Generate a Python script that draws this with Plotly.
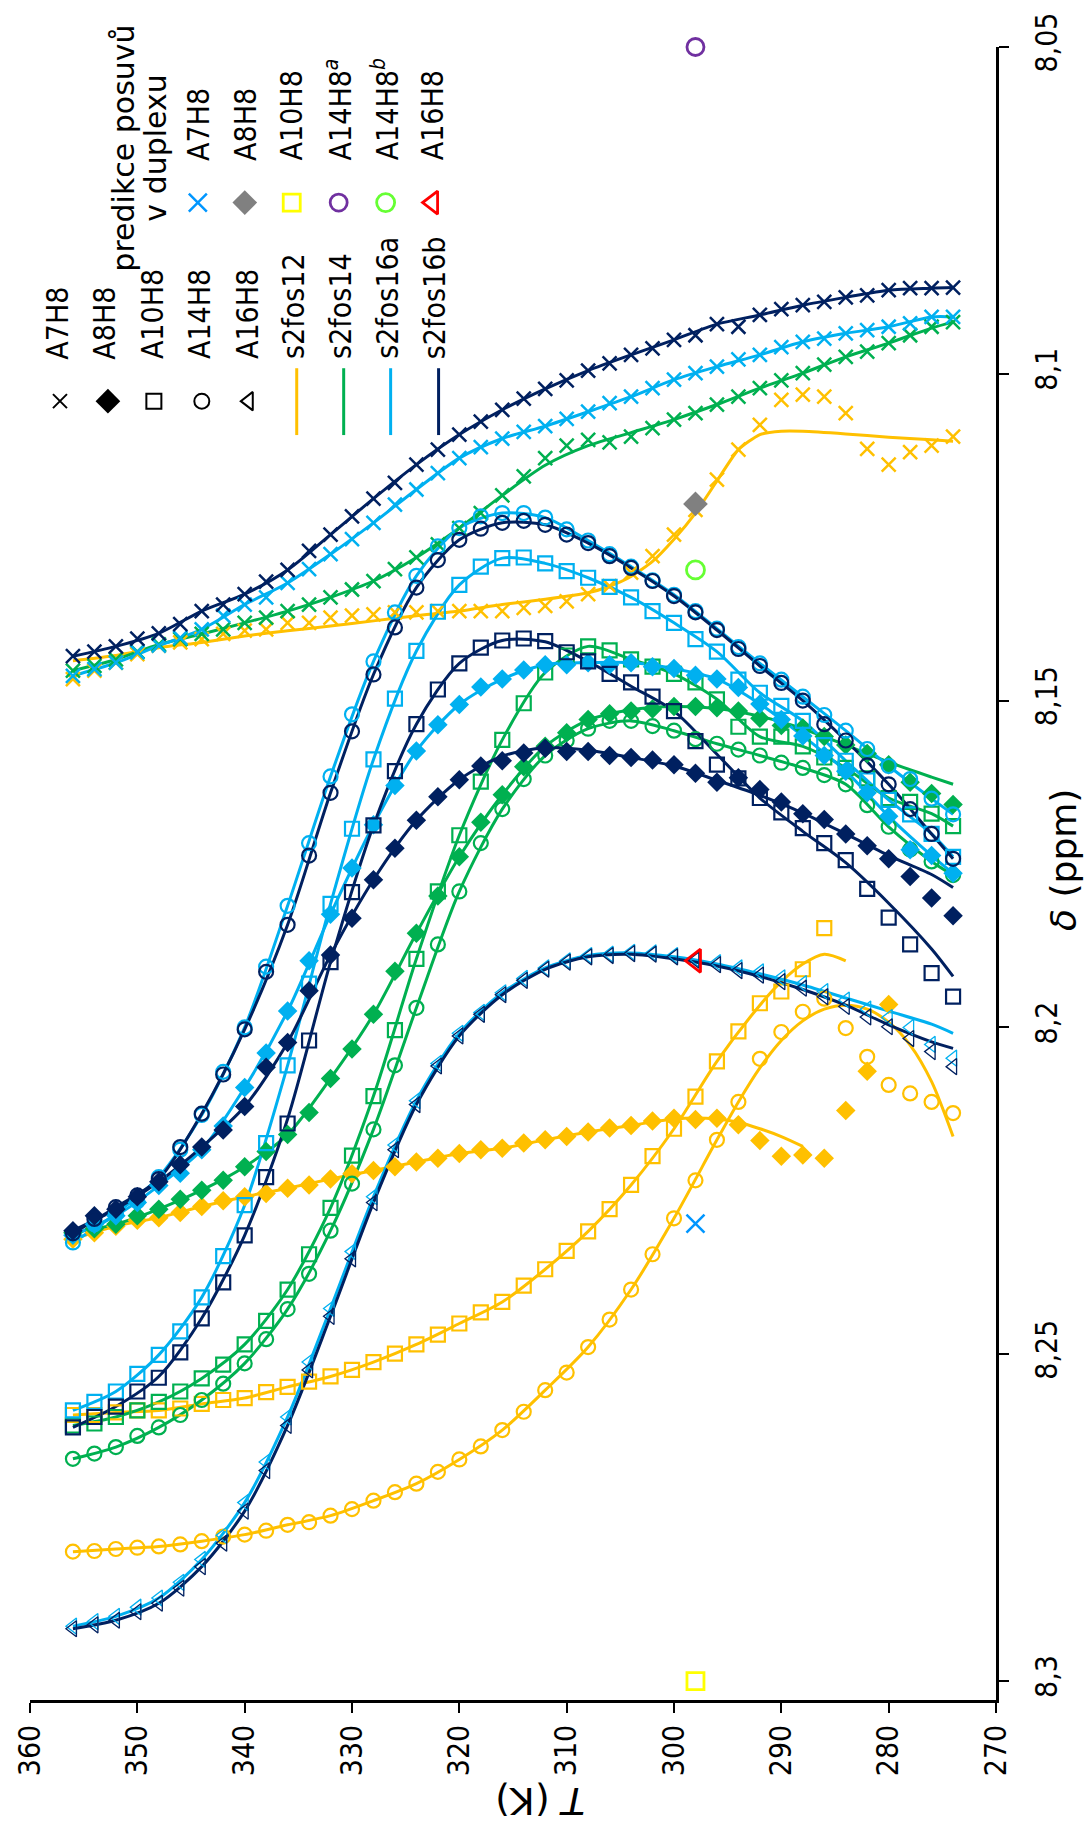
import plotly.graph_objects as go

# ---------------- data ----------------
T = list(range(356, 272, -2))          # 356 ... 274 K, every 2 K
T_A8_12 = list(range(356, 278, -2))    # 356 ... 280
T_A10_12 = list(range(356, 284, -2))   # 356 ... 286

# s2fos16b (navy)
navy_A7 = [8.1432, 8.1425, 8.1417, 8.1405, 8.1397, 8.1383, 8.1363, 8.1353, 8.1337, 8.1318,
           8.1300, 8.1271, 8.1246, 8.1218, 8.1191, 8.1167, 8.1139, 8.1116, 8.1093, 8.1073,
           8.1055, 8.1038, 8.1023, 8.1010, 8.0995, 8.0984, 8.0971, 8.0961, 8.0948, 8.0941,
           8.0924, 8.0928, 8.0910, 8.0901, 8.0895, 8.0890, 8.0883, 8.0880, 8.0872, 8.0869,
           8.0869, 8.0868]
navy_A8 = [8.2311, 8.2288, 8.2278, 8.2259, 8.2236, 8.2210, 8.2183, 8.2157, 8.2121, 8.2061,
           8.2023, 8.1944, 8.1889, 8.1833, 8.1774, 8.1726, 8.1683, 8.1647, 8.1621, 8.1600,
           8.1592, 8.1580, 8.1573, 8.1578, 8.1578, 8.1584, 8.1587, 8.1591, 8.1598, 8.1611,
           8.1625, 8.1618, 8.1636, 8.1655, 8.1673, 8.1682, 8.1704, 8.1722, 8.1742, 8.1769,
           8.1802, 8.1829]
navy_A10 = [8.2612, 8.2596, 8.2580, 8.2557, 8.2536, 8.2497, 8.2445, 8.2390, 8.2318, 8.2229,
            8.2147, 8.2020, 8.1900, 8.1793, 8.1691, 8.1608, 8.1536, 8.1483, 8.1443, 8.1419,
            8.1408, 8.1405, 8.1409, 8.1426, 8.1440, 8.1459, 8.1472, 8.1494, 8.1516, 8.1562,
            8.1598, 8.1619, 8.1649, 8.1671, 8.1695, 8.1718, 8.1744, 8.1788, 8.1832, 8.1873,
            8.1917, 8.1953]
navy_A14 = [8.2315, 8.2293, 8.2275, 8.2257, 8.2232, 8.2183, 8.2132, 8.2072, 8.2003, 8.1915,
            8.1843, 8.1737, 8.1641, 8.1547, 8.1460, 8.1388, 8.1327, 8.1285, 8.1254, 8.1237,
            8.1228, 8.1225, 8.1231, 8.1246, 8.1259, 8.1279, 8.1297, 8.1317, 8.1340, 8.1365,
            8.1392, 8.1421, 8.1447, 8.1473, 8.1500, 8.1536, 8.1561, 8.1599, 8.1628, 8.1666,
            8.1704, 8.1742]
navy_A16 = [8.2920, 8.2914, 8.2907, 8.2894, 8.2881, 8.2858, 8.2825, 8.2789, 8.2740, 8.2678,
            8.2609, 8.2524, 8.2442, 8.2354, 8.2268, 8.2187, 8.2118, 8.2059, 8.2013, 8.1980,
            8.1950, 8.1928, 8.1911, 8.1900, 8.1892, 8.1890, 8.1887, 8.1888, 8.1892, 8.1897,
            8.1904, 8.1913, 8.1920, 8.1930, 8.1940, 8.1953, 8.1968, 8.1984, 8.1999, 8.2017,
            8.2037, 8.2060]

# s2fos16a (light blue)
ltb_A7 = [8.1462, 8.1452, 8.1442, 8.1426, 8.1416, 8.1404, 8.1391, 8.1370, 8.1353, 8.1342,
          8.1320, 8.1299, 8.1276, 8.1253, 8.1228, 8.1200, 8.1177, 8.1152, 8.1129, 8.1112,
          8.1099, 8.1089, 8.1080, 8.1069, 8.1058, 8.1045, 8.1035, 8.1022, 8.1009, 8.0999,
          8.0989, 8.0978, 8.0971, 8.0959, 8.0951, 8.0946, 8.0938, 8.0933, 8.0928, 8.0923,
          8.0913, 8.0913]
ltb_A8 = [8.2318, 8.2301, 8.2288, 8.2268, 8.2242, 8.2223, 8.2187, 8.2151, 8.2092, 8.2039,
          8.1975, 8.1898, 8.1827, 8.1756, 8.1690, 8.1630, 8.1577, 8.1537, 8.1506, 8.1479,
          8.1467, 8.1453, 8.1445, 8.1445, 8.1442, 8.1445, 8.1442, 8.1448, 8.1451, 8.1461,
          8.1467, 8.1480, 8.1505, 8.1529, 8.1554, 8.1584, 8.1608, 8.1641, 8.1677, 8.1728,
          8.1737, 8.1764]
ltb_A10 = [8.2586, 8.2573, 8.2557, 8.2530, 8.2501, 8.2465, 8.2413, 8.2350, 8.2272, 8.2177,
           8.2058, 8.1933, 8.1811, 8.1696, 8.1590, 8.1497, 8.1424, 8.1364, 8.1323, 8.1295,
           8.1282, 8.1281, 8.1290, 8.1302, 8.1312, 8.1326, 8.1342, 8.1363, 8.1381, 8.1406,
           8.1425, 8.1468, 8.1488, 8.1508, 8.1531, 8.1568, 8.1592, 8.1622, 8.1652, 8.1674,
           8.1704, 8.1739]
ltb_A14 = [8.2329, 8.2301, 8.2285, 8.2266, 8.2229, 8.2187, 8.2134, 8.2068, 8.2000, 8.1907,
           8.1814, 8.1718, 8.1616, 8.1521, 8.1440, 8.1365, 8.1309, 8.1264, 8.1236, 8.1218,
           8.1213, 8.1213, 8.1220, 8.1238, 8.1255, 8.1276, 8.1295, 8.1316, 8.1338, 8.1363,
           8.1390, 8.1418, 8.1443, 8.1468, 8.1494, 8.1522, 8.1546, 8.1574, 8.1600, 8.1620,
           8.1650, 8.1674]
ltb_A16 = [8.2916, 8.2909, 8.2901, 8.2887, 8.2873, 8.2849, 8.2814, 8.2777, 8.2727, 8.2665,
           8.2596, 8.2512, 8.2430, 8.2343, 8.2259, 8.2180, 8.2112, 8.2055, 8.2009, 8.1977,
           8.1947, 8.1925, 8.1909, 8.1898, 8.1890, 8.1888, 8.1885, 8.1886, 8.1890, 8.1895,
           8.1901, 8.1909, 8.1915, 8.1924, 8.1933, 8.1945, 8.1958, 8.1972, 8.1985, 8.2000,
           8.2026, 8.2047]

# s2fos14 (green)
grn_A7 = [8.1454, 8.1447, 8.1437, 8.1425, 8.1414, 8.1406, 8.1398, 8.1391, 8.1381, 8.1373,
          8.1363, 8.1353, 8.1342, 8.1330, 8.1317, 8.1299, 8.1281, 8.1261, 8.1236, 8.1213,
          8.1186, 8.1157, 8.1129, 8.1110, 8.1101, 8.1105, 8.1096, 8.1083, 8.1070, 8.1060,
          8.1047, 8.1035, 8.1022, 8.1010, 8.0999, 8.0986, 8.0974, 8.0966, 8.0953, 8.0941,
          8.0928, 8.0921]
grn_A8 = [8.2314, 8.2308, 8.2301, 8.2288, 8.2278, 8.2263, 8.2249, 8.2234, 8.2213, 8.2190,
          8.2164, 8.2130, 8.2078, 8.2033, 8.1980, 8.1914, 8.1856, 8.1799, 8.1739, 8.1686,
          8.1644, 8.1601, 8.1570, 8.1549, 8.1529, 8.1520, 8.1516, 8.1513, 8.1509, 8.1509,
          8.1511, 8.1516, 8.1527, 8.1538, 8.1542, 8.1555, 8.1568, 8.1581, 8.1598, 8.1625,
          8.1642, 8.1659]
grn_A10 = [8.2609, 8.2606, 8.2596, 8.2586, 8.2573, 8.2557, 8.2537, 8.2516, 8.2485, 8.2449,
           8.2401, 8.2347, 8.2276, 8.2196, 8.2105, 8.2004, 8.1895, 8.1792, 8.1706, 8.1624,
           8.1560, 8.1504, 8.1457, 8.1431, 8.1417, 8.1423, 8.1437, 8.1448, 8.1459, 8.1472,
           8.1498, 8.1540, 8.1555, 8.1555, 8.1570, 8.1587, 8.1603, 8.1619, 8.1649, 8.1655,
           8.1673, 8.1692]
grn_A14 = [8.2660, 8.2652, 8.2642, 8.2625, 8.2612, 8.2593, 8.2570, 8.2545, 8.2514, 8.2477,
           8.2431, 8.2377, 8.2311, 8.2239, 8.2156, 8.2058, 8.1970, 8.1873, 8.1792, 8.1718,
           8.1666, 8.1620, 8.1584, 8.1561, 8.1543, 8.1531, 8.1531, 8.1539, 8.1546, 8.1559,
           8.1566, 8.1575, 8.1584, 8.1595, 8.1603, 8.1614, 8.1628, 8.1660, 8.1693, 8.1728,
           8.1746, 8.1767]

# s2fos12 (orange)
org_A7 = [8.1467, 8.1454, 8.1442, 8.1429, 8.1416, 8.1411, 8.1406, 8.1398, 8.1393, 8.1391,
          8.1381, 8.1381, 8.1373, 8.1370, 8.1368, 8.1365, 8.1365, 8.1363, 8.1363, 8.1363,
          8.1363, 8.1358, 8.1355, 8.1348, 8.1337, 8.1325, 8.1304, 8.1279, 8.1246, 8.1208,
          8.1162, 8.1116, 8.1078, 8.1040, 8.1032, 8.1035, 8.1060, 8.1115, 8.1139, 8.1120,
          8.1110, 8.1096]
org_A8 = [8.2324, 8.2314, 8.2304, 8.2295, 8.2291, 8.2283, 8.2274, 8.2265, 8.2259, 8.2254,
          8.2246, 8.2241, 8.2232, 8.2224, 8.2219, 8.2213, 8.2206, 8.2200, 8.2193, 8.2187,
          8.2185, 8.2177, 8.2172, 8.2167, 8.2160, 8.2154, 8.2150, 8.2143, 8.2139, 8.2141,
          8.2139, 8.2149, 8.2173, 8.2197, 8.2195, 8.2200, 8.2127, 8.2067, 8.1965]
org_A10 = [8.2593, 8.2593, 8.2589, 8.2586, 8.2586, 8.2583, 8.2576, 8.2570, 8.2567, 8.2558,
           8.2550, 8.2542, 8.2534, 8.2524, 8.2512, 8.2499, 8.2485, 8.2470, 8.2453, 8.2436,
           8.2420, 8.2395, 8.2370, 8.2342, 8.2312, 8.2278, 8.2241, 8.2197, 8.2155, 8.2106,
           8.2052, 8.2006, 8.1963, 8.1945, 8.1911, 8.1848]
org_A14 = [8.2802, 8.2801, 8.2798, 8.2796, 8.2794, 8.2791, 8.2786, 8.2779, 8.2776, 8.2770,
           8.2761, 8.2757, 8.2747, 8.2737, 8.2724, 8.2711, 8.2698, 8.2680, 8.2661, 8.2641,
           8.2616, 8.2588, 8.2555, 8.2528, 8.2489, 8.2447, 8.2401, 8.2347, 8.2292, 8.2234,
           8.2172, 8.2114, 8.2048, 8.2007, 8.1976, 8.1956, 8.2001, 8.2045, 8.2088, 8.2101,
           8.2114, 8.2131]

# fitted curves that depart from the measured points
FIT_T = [356, 352, 348, 344, 340, 336, 332, 328, 324, 320, 316,
         312, 308, 304, 300, 296, 292, 288, 284, 280, 276, 274]
navy_A10_fit = [8.2612, 8.2580, 8.2534, 8.2445, 8.2318, 8.2140, 8.1900, 8.1691, 8.1536, 8.1443, 8.1408,
                8.1410, 8.1440, 8.1478, 8.1516, 8.1582, 8.1649, 8.1700, 8.1748, 8.1810, 8.1880, 8.1922]
navy_A8_fit = [8.2311, 8.2278, 8.2236, 8.2183, 8.2121, 8.2023, 8.1889, 8.1774, 8.1683, 8.1621, 8.1585,
               8.1572, 8.1576, 8.1587, 8.1600, 8.1622, 8.1645, 8.1672, 8.1704, 8.1737, 8.1766, 8.1786]
navy_A16_fit = [8.2920, 8.2907, 8.2881, 8.2825, 8.2740, 8.2609, 8.2442, 8.2268, 8.2118, 8.2013, 8.1950,
                8.1911, 8.1892, 8.1888, 8.1895, 8.1906, 8.1922, 8.1942, 8.1966, 8.1996, 8.2022, 8.2032]
ltb_A16_fit = [8.2916, 8.2901, 8.2873, 8.2814, 8.2727, 8.2596, 8.2430, 8.2259, 8.2112, 8.2009, 8.1947,
               8.1909, 8.1890, 8.1886, 8.1892, 8.1903, 8.1918, 8.1935, 8.1955, 8.1975, 8.1995, 8.2009]
grn_A8_fit = [8.2314, 8.2301, 8.2278, 8.2249, 8.2213, 8.2164, 8.2078, 8.1980, 8.1856, 8.1739, 8.1644,
              8.1570, 8.1530, 8.1514, 8.1509, 8.1512, 8.1524, 8.1543, 8.1568, 8.1594, 8.1617, 8.1628]
grn_A7_fit = [8.1454, 8.1437, 8.1414, 8.1398, 8.1381, 8.1363, 8.1342, 8.1317, 8.1281, 8.1236, 8.1186,
              8.1140, 8.1110, 8.1090, 8.1070, 8.1047, 8.1022, 8.0999, 8.0974, 8.0953, 8.0930, 8.0921]

org_A7_fit_T = [356, 352, 348, 344, 340, 336, 332, 328, 324, 320, 316, 312, 308, 306,
                304, 302, 300, 298, 296, 294, 292, 290, 288, 284, 280, 276, 274]
org_A7_fit = [8.1439, 8.1431, 8.1419, 8.1411, 8.1401, 8.1393, 8.1386, 8.1378, 8.1370, 8.1363,
              8.1353, 8.1345, 8.1335, 8.1325, 8.1310, 8.1287, 8.1253, 8.1213, 8.1164, 8.1116,
              8.1093, 8.1088, 8.1088, 8.1092, 8.1097, 8.1101, 8.1103]
org_A8_fit_T = [356, 352, 348, 344, 340, 336, 332, 328, 324, 320, 316, 312, 308, 304,
                300, 296, 294, 292, 290, 288]
org_A8_fit = [8.2324, 8.2304, 8.2291, 8.2274, 8.2259, 8.2246, 8.2232, 8.2219, 8.2206, 8.2193,
              8.2185, 8.2172, 8.2160, 8.2150, 8.2140, 8.2140, 8.2145, 8.2155, 8.2167, 8.2182]
org_A10_fit_T = [356, 352, 348, 344, 340, 336, 332, 328, 324, 320, 316, 312, 308, 304,
                 300, 296, 292, 290, 288, 286, 284]
org_A10_fit = [8.2593, 8.2589, 8.2586, 8.2576, 8.2567, 8.2550, 8.2534, 8.2512, 8.2485, 8.2453,
               8.2420, 8.2370, 8.2312, 8.2241, 8.2155, 8.2052, 8.1966, 8.1930, 8.1903, 8.1888, 8.1898]
org_A14_fit_T = [356, 352, 348, 344, 340, 336, 332, 328, 324, 320, 316, 312, 308, 304,
                 300, 296, 294, 292, 290, 288, 286, 284, 282, 280, 278, 276, 274]
org_A14_fit = [8.2802, 8.2798, 8.2794, 8.2786, 8.2776, 8.2761, 8.2747, 8.2724, 8.2698, 8.2661,
               8.2616, 8.2555, 8.2489, 8.2401, 8.2292, 8.2172, 8.2114, 8.2062, 8.2020, 8.1990,
               8.1972, 8.1966, 8.1972, 8.1992, 8.2027, 8.2083, 8.2167]

# predicted shifts in the duplex (single points at 298 K)
pred_T = 298
pred_labels = ["A7H8", "A8H8", "A10H8", "A14H8<sup><i>a</i></sup>", "A14H8<sup><i>b</i></sup>", "A16H8"]
pred_delta = [8.2300, 8.1199, 8.3000, 8.0500, 8.1300, 8.1898]

x_ticks = [360, 350, 340, 330, 320, 310, 300, 290, 280, 270]
y_ticks = [8.05, 8.1, 8.15, 8.2, 8.25, 8.3]
y_ticktext = ["8,05", "8,1", "8,15", "8,2", "8,25", "8,3"]

proton_labels = ["A7H8", "A8H8", "A10H8", "A14H8", "A16H8"]
construct_labels = ["s2fos12", "s2fos14", "s2fos16a", "s2fos16b"]

# ---------------- styles ----------------
NAVY, LTB, GRN, ORG = "#002060", "#00B0F0", "#00B050", "#FFC000"
SYM = {"A7": "x-thin", "A8": "diamond", "A10": "square-open", "A14": "circle-open", "A16": "triangle-left-open"}
SIZE = {"A7": 14, "A8": 15, "A10": 14, "A14": 14, "A16": 14}
LW = {"A7": 2.5, "A8": 0, "A10": 2.2, "A14": 2.2, "A16": 1.3}
FONT_C = "DejaVu Sans Condensed, Liberation Sans Narrow, DejaVu Sans, sans-serif"
FONT_R = "DejaVu Sans, sans-serif"

# plot-area geometry (px) used to place the hand-made legend / titles
PX_L, PX_R, PX_T, PX_B = 29, 996, 43, 1700

fig = go.Figure()


def thin(x, y):
    """every other measured point (plus the last one) for a smooth guide line"""
    xs, ys = list(x[::2]), list(y[::2])
    if xs[-1] != x[-1]:
        xs.append(x[-1]); ys.append(y[-1])
    return xs, ys


def add_line(x, y, color, smoothing=0.8):
    fig.add_trace(go.Scatter(x=x, y=y, mode="lines", hoverinfo="skip", showlegend=False,
                             line=dict(color=color, width=3, shape="spline", smoothing=smoothing)))


def add_pts(x, y, color, key):
    fig.add_trace(go.Scatter(x=x, y=y, mode="markers", hoverinfo="skip", showlegend=False,
                             marker=dict(symbol=SYM[key], size=SIZE[key], color=color,
                                         line=dict(color=color, width=LW[key]))))


# lines (fitted)
add_line(org_A7_fit_T, org_A7_fit, ORG, 0.6)
add_line(org_A8_fit_T, org_A8_fit, ORG)
add_line(org_A10_fit_T, org_A10_fit, ORG)
add_line(org_A14_fit_T, org_A14_fit, ORG)
add_line(FIT_T, grn_A7_fit, GRN)
add_line(FIT_T, grn_A8_fit, GRN)
add_line(*thin(T, grn_A10), GRN)
add_line(*thin(T, grn_A14), GRN)
add_line(*thin(T, ltb_A7), LTB)
add_line(*thin(T, ltb_A8), LTB)
add_line(*thin(T, ltb_A10), LTB)
add_line(*thin(T, ltb_A14), LTB)
add_line(FIT_T, ltb_A16_fit, LTB)
add_line(*thin(T, navy_A7), NAVY)
add_line(FIT_T, navy_A8_fit, NAVY)
add_line(FIT_T, navy_A10_fit, NAVY)
add_line(*thin(T, navy_A14), NAVY)
add_line(FIT_T, navy_A16_fit, NAVY)

# measured points
add_pts(T, org_A7, ORG, "A7")
add_pts(T_A8_12, org_A8, ORG, "A8")
add_pts(T_A10_12, org_A10, ORG, "A10")
add_pts(T, org_A14, ORG, "A14")
add_pts(T, grn_A7, GRN, "A7")
add_pts(T, grn_A8, GRN, "A8")
add_pts(T, grn_A10, GRN, "A10")
add_pts(T, grn_A14, GRN, "A14")
add_pts(T, ltb_A7, LTB, "A7")
add_pts(T, ltb_A8, LTB, "A8")
add_pts(T, ltb_A10, LTB, "A10")
add_pts(T, ltb_A14, LTB, "A14")
add_pts(T, ltb_A16, LTB, "A16")
add_pts(T, navy_A7, NAVY, "A7")
add_pts(T, navy_A8, NAVY, "A8")
add_pts(T, navy_A10, NAVY, "A10")
add_pts(T, navy_A14, NAVY, "A14")
add_pts(T, navy_A16, NAVY, "A16")

# predictions
PRED_STYLE = [("x-thin", "#0096FF", 18, 2.5), ("diamond", "#808080", 19, 0),
              ("square-open", "#FFFF00", 17, 2.8), ("circle-open", "#7030A0", 17, 2.8),
              ("circle-open", "#66FF33", 18, 2.8), ("triangle-left-open", "#FF0000", 20, 2.8)]
for d, (sym, col, sz, lw) in zip(pred_delta, PRED_STYLE):
    fig.add_trace(go.Scatter(x=[pred_T], y=[d], mode="markers", hoverinfo="skip", showlegend=False,
                             cliponaxis=False,
                             marker=dict(symbol=sym, size=sz, color=col, line=dict(color=col, width=lw))))

# ---------------- hand-made rotated legend (overlay axes in pixel units) ----------------
L1_Y, L1_X = 398, [59, 107, 153, 201, 248]
L1_TXT_X = [57, 104, 151, 198, 246]
L1_SIZE = [14, 19, 15, 15, 16]
for key, x, sz in zip(["A7", "A8", "A10", "A14", "A16"], L1_X, L1_SIZE):
    fig.add_trace(go.Scatter(x=[x], y=[L1_Y], xaxis="x2", yaxis="y2", mode="markers",
                             hoverinfo="skip", showlegend=False, cliponaxis=False,
                             marker=dict(symbol=SYM[key], size=sz, color="black",
                                         line=dict(color="black", width=2 if key != "A8" else 0))))
L2_Y, L2_X = 199, [197, 244, 291, 338, 385, 432]
for (sym, col, sz, lw), x in zip(PRED_STYLE, L2_X):
    fig.add_trace(go.Scatter(x=[x], y=[L2_Y], xaxis="x2", yaxis="y2", mode="markers",
                             hoverinfo="skip", showlegend=False, cliponaxis=False,
                             marker=dict(symbol=sym, size=sz, color=col, line=dict(color=col, width=lw))))

LINE_X = [296, 343, 390, 438]
LINE_TXT_X = [293, 340, 387, 434]
shapes = []
for x, col in zip(LINE_X, [ORG, GRN, LTB, NAVY]):
    shapes.append(dict(type="line", xref="x2", yref="y2", x0=x, x1=x, y0=365, y1=432,
                       line=dict(color=col, width=3)))

ann = []


def rot_text(x, y, text, size=30, family=FONT_C, yanchor="bottom", angle=-90):
    # pixel position -> paper coordinates
    px = (x - PX_L) / (PX_R - PX_L)
    py = (PX_B - y) / (PX_B - PX_T)
    ann.append(dict(x=px, y=py, xref="paper", yref="paper", text=text, showarrow=False,
                    textangle=angle, xanchor="center", yanchor=yanchor,
                    font=dict(family=family, size=size, color="black")))


for x, t in zip(L1_TXT_X, proton_labels):
    rot_text(x, 358, t)
for x, t in zip(LINE_TXT_X, construct_labels):
    rot_text(x, 358, t)
for x, t in zip(L2_X, pred_labels):
    rot_text(x, 159, t)
rot_text(123, 144, "predikce posuvů", family=FONT_R, yanchor="middle")
rot_text(155, 144, "v duplexu", family=FONT_R, yanchor="middle")

# axis titles
rot_text(539, 1801, "<i>T</i> (K)", size=38, family=FONT_R, yanchor="middle", angle=180)
rot_text(1063, 858, "<i>δ</i> (ppm)", size=36, family=FONT_R, yanchor="middle", angle=-90)

fig.update_layout(
    width=1090, height=1827,
    margin=dict(l=PX_L, r=1090 - PX_R, t=PX_T, b=1827 - PX_B, pad=0),
    paper_bgcolor="white", plot_bgcolor="white",
    showlegend=False, separators=", ",
    shapes=shapes, annotations=ann,
    xaxis=dict(range=[360, 270], tickvals=x_ticks, tickangle=-90, ticks="outside", ticklen=10,
               tickwidth=1.5, tickcolor="black", showline=True, linecolor="black", linewidth=2.5,
               showgrid=False, zeroline=False,
               tickfont=dict(family=FONT_C, size=30, color="black")),
    yaxis=dict(range=[8.3029, 8.05], side="right", tickvals=y_ticks, ticktext=y_ticktext,
               tickangle=-90, ticks="outside", ticklen=10, tickwidth=1.5, tickcolor="black",
               showline=True, linecolor="black", linewidth=2.5, showgrid=False, zeroline=False,
               ticklabelstandoff=12,
               tickfont=dict(family=FONT_C, size=30, color="black")),
    xaxis2=dict(overlaying="x", range=[PX_L, PX_R], visible=False, anchor="y2"),
    yaxis2=dict(overlaying="y", range=[PX_B, PX_T], visible=False, anchor="x2"),
)

fig.write_html("out.html")
